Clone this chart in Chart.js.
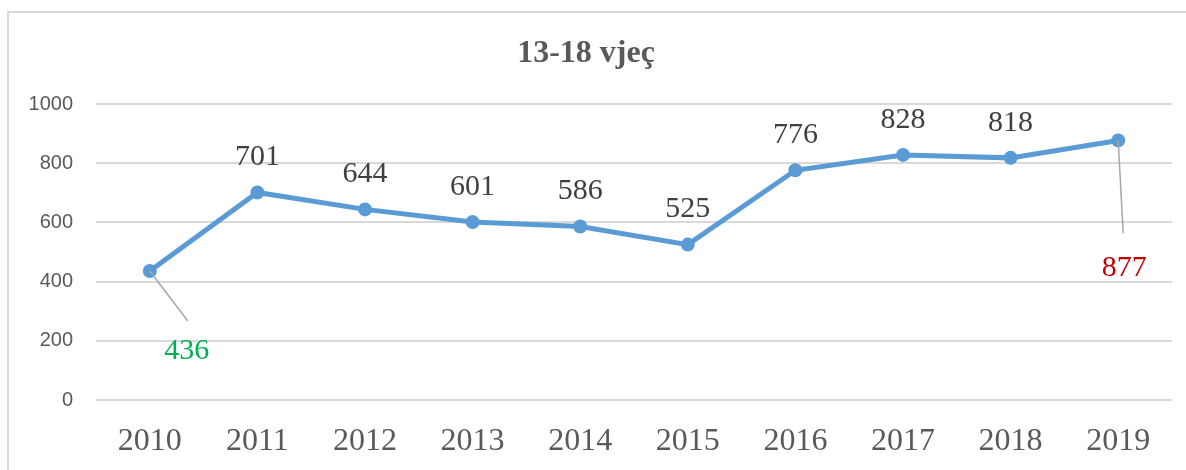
<!DOCTYPE html>
<html lang="sq">
<head>
    <meta charset="UTF-8">
    <title>13-18 vjeç</title>
    <script src="https://cdn.jsdelivr.net/npm/chart.js"></script>
    <style>
        html, body { margin: 0; padding: 0; background: #fff; }
        #wrap { width: 1186px; height: 470px; }
    </style>
</head>
<body>
    <div id="wrap"><canvas id="myChart"></canvas></div>
    <script>
        const years = ['2010','2011','2012','2013','2014','2015','2016','2017','2018','2019'];
        const values = [436, 701, 644, 601, 586, 525, 776, 828, 818, 877];
        const yTicks = [0, 200, 400, 600, 800, 1000];
        const labelColors = ['#00b050','#404040','#404040','#404040','#404040','#404040','#404040','#404040','#404040','#c00000'];

        // label offsets relative to the point; first and last have leader lines
        const labelOffset = (i) => {
            if (i === 0) return { dx: 37, dy: 80, lead: { dx: 38, dy: 50 } };
            if (i === values.length - 1) return { dx: 6, dy: 128, lead: { dx: 5, dy: 93 } };
            return { dx: 0, dy: -35 };
        };

        const serif = '"Liberation Serif", "DejaVu Serif", serif';

        const labelsPlugin = {
            id: 'pointLabels',
            beforeDraw(chart) {
                const ctx = chart.ctx;
                ctx.save();
                ctx.strokeStyle = '#d9d9d9';
                ctx.lineWidth = 2;
                ctx.beginPath();
                ctx.moveTo(8, chart.height + 5);
                ctx.lineTo(8, 12);
                ctx.lineTo(chart.width + 5, 12);
                ctx.stroke();
                ctx.restore();
            },
            afterDatasetsDraw(chart) {
                const ctx = chart.ctx;
                const meta = chart.getDatasetMeta(0);
                ctx.save();
                meta.data.forEach((pt, i) => {
                    const o = labelOffset(i);
                    if (o.lead) {
                        ctx.strokeStyle = '#a6a6a6';
                        ctx.lineWidth = 1.5;
                        ctx.beginPath();
                        ctx.moveTo(pt.x, pt.y);
                        ctx.lineTo(pt.x + o.lead.dx, pt.y + o.lead.dy);
                        ctx.stroke();
                    }
                    ctx.fillStyle = labelColors[i];
                    ctx.font = '30px ' + serif;
                    ctx.textAlign = 'center';
                    ctx.textBaseline = 'middle';
                    ctx.fillText(String(values[i]), pt.x + o.dx, pt.y + o.dy);
                });
                ctx.restore();
            }
        };

        const ctx = document.getElementById('myChart').getContext('2d');
        const myChart = new Chart(ctx, {
            type: 'line',
            data: {
                labels: years,
                datasets: [{
                    label: '13-18 vjeç',
                    data: values,
                    borderColor: '#5b9bd5',
                    backgroundColor: '#5b9bd5',
                    borderWidth: 5,
                    pointRadius: 7,
                    pointHoverRadius: 7,
                    pointBorderWidth: 0,
                    tension: 0
                }]
            },
            options: {
                responsive: true,
                maintainAspectRatio: false,
                animation: false,
                layout: { padding: { left: 0, right: 14, top: 0, bottom: 0 } },
                plugins: {
                    legend: { display: false },
                    tooltip: { enabled: false },
                    title: {
                        display: true,
                        text: '13-18 vjeç',
                        color: '#595959',
                        font: { family: serif, size: 32, weight: 'bold' },
                        padding: { top: 35, bottom: 30.6 }
                    }
                },
                scales: {
                    x: {
                        offset: true,
                        afterFit(scale) { scale.height = 70; },
                        grid: { display: false, drawTicks: false },
                        border: { display: false },
                        ticks: {
                            color: '#595959',
                            font: { family: serif, size: 32 },
                            padding: 22
                        }
                    },
                    y: {
                        min: 0,
                        max: 1000,
                        afterBuildTicks(scale) {
                            scale.ticks = yTicks.map(v => ({ value: v }));
                        },
                        afterFit(scale) { scale.width = 96; },
                        grid: { color: '#d9d9d9', lineWidth: 2, drawTicks: false },
                        border: { display: false },
                        ticks: {
                            color: '#595959',
                            font: { family: '"Liberation Sans", Arial, sans-serif', size: 20 },
                            padding: 23,
                            callback: (v) => String(v)
                        }
                    }
                }
            },
            plugins: [labelsPlugin]
        });
    </script>
</body>
</html>
